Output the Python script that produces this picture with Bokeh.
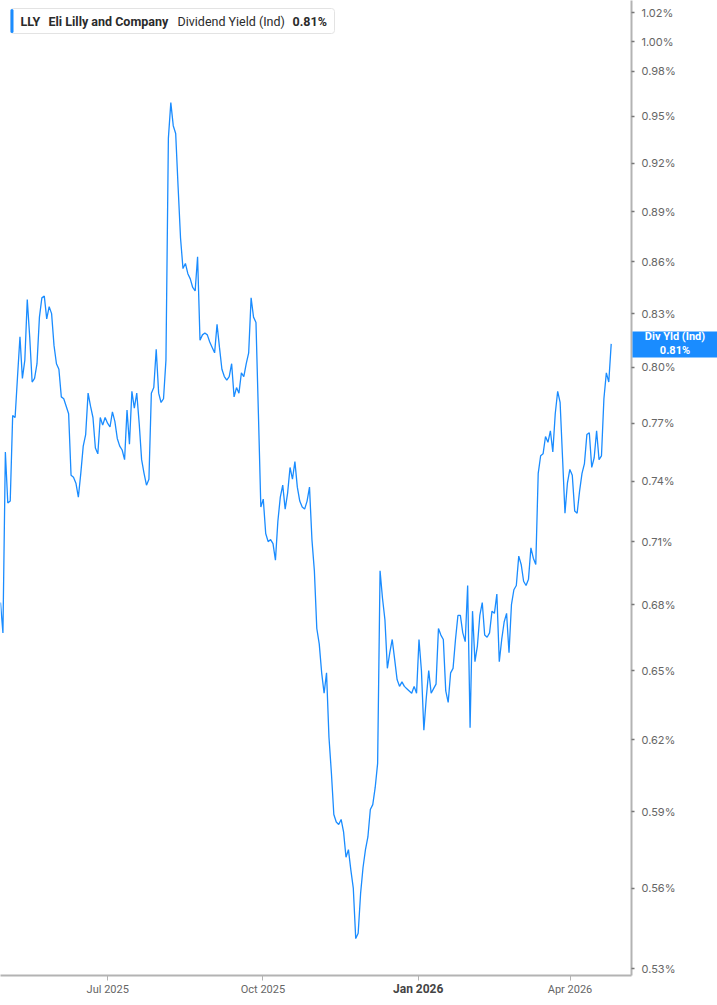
import pandas as pd
from bokeh.plotting import figure
from bokeh.core.properties import value
from bokeh.models import (ColumnDataSource, FixedTicker, PrintfTickFormatter,
                          DatetimeTickFormatter, Label, BoxAnnotation, Range1d)
from bokeh.embed import file_html
from bokeh.resources import INLINE

# ---------------- data ----------------
symbol = "LLY"
company = "Eli Lilly and Company"
metric = "Dividend Yield (Ind)"
last_text = "0.81%"
tag_title = "Div Yld (Ind)"

# daily dividend yield (%), late Apr 2025 -> late Apr 2026
yield_pct = [
    0.681, 0.667, 0.755, 0.729, 0.730, 0.774, 0.773, 0.795, 0.817, 0.794,
    0.804, 0.838, 0.817, 0.792, 0.794, 0.802, 0.828, 0.839, 0.840, 0.827,
    0.834, 0.830, 0.812, 0.802, 0.799, 0.784, 0.783, 0.779, 0.775, 0.743,
    0.742, 0.739, 0.732, 0.744, 0.758, 0.764, 0.786, 0.779, 0.773, 0.757,
    0.754, 0.773, 0.769, 0.773, 0.770, 0.768,
    0.776, 0.771, 0.762, 0.758, 0.756, 0.751, 0.777, 0.759, 0.787, 0.778,
    0.786, 0.770, 0.751, 0.744, 0.738, 0.741, 0.786, 0.789, 0.810, 0.786,
    0.781, 0.783, 0.804, 0.936, 0.959, 0.944, 0.939, 0.905, 0.874, 0.856,
    0.859, 0.853, 0.850, 0.845, 0.843, 0.863, 0.815, 0.818, 0.819, 0.818,
    0.814, 0.811, 0.808,
    0.824, 0.811, 0.799, 0.795, 0.793, 0.795, 0.802, 0.784, 0.789, 0.786,
    0.797, 0.795, 0.802, 0.808, 0.839, 0.828, 0.825, 0.775, 0.727, 0.731,
    0.714, 0.710, 0.711, 0.709, 0.701, 0.720, 0.732, 0.738, 0.726, 0.734,
    0.747, 0.741, 0.750, 0.737, 0.730, 0.727, 0.726, 0.730, 0.737, 0.711,
    0.696, 0.669, 0.662,
    0.649, 0.640, 0.649, 0.621, 0.606, 0.589, 0.586, 0.585, 0.587, 0.582,
    0.572, 0.575, 0.567, 0.560, 0.541, 0.543, 0.558, 0.568, 0.575, 0.580,
    0.591, 0.593, 0.600, 0.610, 0.696, 0.683, 0.673, 0.651, 0.658, 0.664,
    0.655, 0.646, 0.643, 0.645, 0.643, 0.642, 0.641, 0.640, 0.643, 0.640,
    0.664,
    0.650, 0.624, 0.638, 0.650, 0.640, 0.642, 0.644, 0.669, 0.666, 0.664,
    0.641, 0.636, 0.649, 0.651, 0.664, 0.675, 0.675, 0.667, 0.663, 0.689,
    0.625, 0.677, 0.654, 0.661, 0.675, 0.681, 0.666, 0.665, 0.667, 0.677,
    0.676, 0.685, 0.654, 0.664, 0.672, 0.676, 0.658, 0.680, 0.687, 0.689,
    0.703, 0.699, 0.691, 0.689, 0.692, 0.707, 0.702, 0.699, 0.744, 0.753,
    0.754, 0.763, 0.760, 0.766, 0.755, 0.775, 0.787, 0.781, 0.752, 0.724,
    0.739, 0.746, 0.743, 0.725, 0.724, 0.735, 0.744, 0.749, 0.764, 0.765,
    0.747, 0.752, 0.766, 0.751, 0.753, 0.783, 0.797, 0.792, 0.813,
]
first_date = "2025-04-28 10:20"
last_date = "2026-04-25 09:40"

y_ticks = [0.53, 0.56, 0.59, 0.62, 0.65, 0.68, 0.71, 0.74, 0.77, 0.80,
           0.83, 0.86, 0.89, 0.92, 0.95, 0.98, 1.00, 1.02]
x_tick_dates = ["2025-07-01", "2025-10-01", "2026-01-01", "2026-04-01"]
x_tick_labels = ["Jul 2025", "Oct 2025", "Jan 2026", "Apr 2026"]
x_tick_bold = [False, False, True, False]

# ---------------- layout ----------------
W, H = 717, 1005
FRAME_W, FRAME_H = 631, 975
x_start = pd.Timestamp("2025-04-28 10:20")
x_end = pd.Timestamp("2026-05-07 10:20")
y_start, y_end = 0.5275, 1.0285
LINE_BLUE = "#1a8cff"


def ms(t):
    return pd.Timestamp(t).value / 1e6


xs_ms, xe_ms = ms(x_start), ms(x_end)


def px_to_ms(px):  # canvas pixel -> data x
    return xs_ms + px / FRAME_W * (xe_ms - xs_ms)


def py_to_val(py):  # canvas pixel -> data y (log scale)
    return y_end * (y_start / y_end) ** (py / FRAME_H)


dates = pd.date_range(first_date, last_date, periods=len(yield_pct))
src = ColumnDataSource(dict(date=dates, val=yield_pct))

p = figure(width=W, height=H, x_axis_type="datetime", y_axis_type="log",
           y_axis_location="right",
           x_range=Range1d(xs_ms, xe_ms), y_range=Range1d(y_start, y_end),
           output_backend="svg", toolbar_location=None,
           min_border_left=0, min_border_top=0,
           min_border_right=W - FRAME_W, min_border_bottom=H - FRAME_H)
p.background_fill_color = "white"
p.border_fill_color = "white"
p.outline_line_color = None
p.xgrid.visible = False
p.ygrid.visible = False

p.line("date", "val", source=src, line_color=LINE_BLUE, line_width=1.3)

# right (value) axis
yax = p.yaxis[0]
yax.ticker = FixedTicker(ticks=y_ticks, minor_ticks=[])
yax.formatter = PrintfTickFormatter(format="%.2f%%")
yax.axis_line_color = "#b3b3b3"
yax.axis_line_width = 2
yax.major_tick_in = 0
yax.major_tick_out = 3
yax.major_tick_line_color = "#777777"
yax.major_tick_line_width = 1.5
yax.minor_tick_line_color = None
yax.major_label_standoff = 7
yax.major_label_text_font = "Inter"
yax.major_label_text_font_size = "11px"
yax.major_label_text_color = "#666666"

# bottom (time) axis
x_tick_ms = [ms(d) for d in x_tick_dates]
xax = p.xaxis[0]
xax.ticker = FixedTicker(ticks=x_tick_ms, minor_ticks=[])
fmt = "%b %Y"
xax.formatter = DatetimeTickFormatter(days=fmt, months=fmt, years=fmt,
                                      hours=fmt, minutes=fmt)
xax.major_label_overrides = {t: ("" if b else lab)
                             for t, lab, b in zip(x_tick_ms, x_tick_labels, x_tick_bold)}
xax.axis_line_color = "#b3b3b3"
xax.axis_line_width = 2
xax.major_tick_in = 0
xax.major_tick_out = 5
xax.major_tick_line_color = "#b3b3b3"
xax.minor_tick_line_color = None
xax.major_label_standoff = 2
xax.major_label_text_font = "Roboto"
xax.major_label_text_font_size = "11px"
xax.major_label_text_color = "#666666"

# the emphasised (bold) time label, drawn at overlay level
bold_x = [t for t, b in zip(x_tick_ms, x_tick_bold) if b]
bold_t = [lab for lab, b in zip(x_tick_labels, x_tick_bold) if b]
p.text(x=bold_x, y=[y_start] * len(bold_x), text=bold_t, y_offset=13,
       text_align="center", text_baseline="middle",
       text_font=value("Roboto"), text_font_size="12px",
       text_font_style="bold", text_color="#444444", level="overlay")

# header legend box
p.add_layout(BoxAnnotation(left=px_to_ms(10), right=px_to_ms(334),
                           top=py_to_val(8), bottom=py_to_val(33),
                           fill_color="white", fill_alpha=1.0,
                           line_color="#e3e3e3", line_alpha=1.0, line_width=1,
                           border_radius=3))
p.add_layout(BoxAnnotation(left=px_to_ms(10), right=px_to_ms(13),
                           top=py_to_val(8.5), bottom=py_to_val(32.5),
                           fill_color=LINE_BLUE, fill_alpha=1.0,
                           line_color=None, border_radius=2))

header = [(symbol, 20, "bold"), (company, 48, "bold"),
          (metric, 177, "normal"), (last_text, 292, "bold")]
for txt, xo, style in header:
    p.add_layout(Label(x=xs_ms, y=y_end, x_offset=xo, y_offset=-21, text=txt,
                       text_align="left", text_baseline="middle",
                       text_font="Roboto", text_font_size="12.5px",
                       text_font_style=style, text_color="#2b2b2b"))

# last value tag over the right axis, drawn at overlay level
p.quad(left=[px_to_ms(632)], right=[px_to_ms(717)],
       top=[py_to_val(331)], bottom=[py_to_val(357)],
       fill_color=LINE_BLUE, line_color=None, level="overlay")
p.text(x=[px_to_ms(674.5)], y=[yield_pct[-1]],
       text=[tag_title + "\n" + last_text],
       text_align="center", text_baseline="middle",
       text_font=value("Roboto"), text_font_size="11px",
       text_font_style="bold", text_color="white", text_line_height=1.1,
       level="overlay")

open("out.html", "w").write(file_html(p, INLINE))
